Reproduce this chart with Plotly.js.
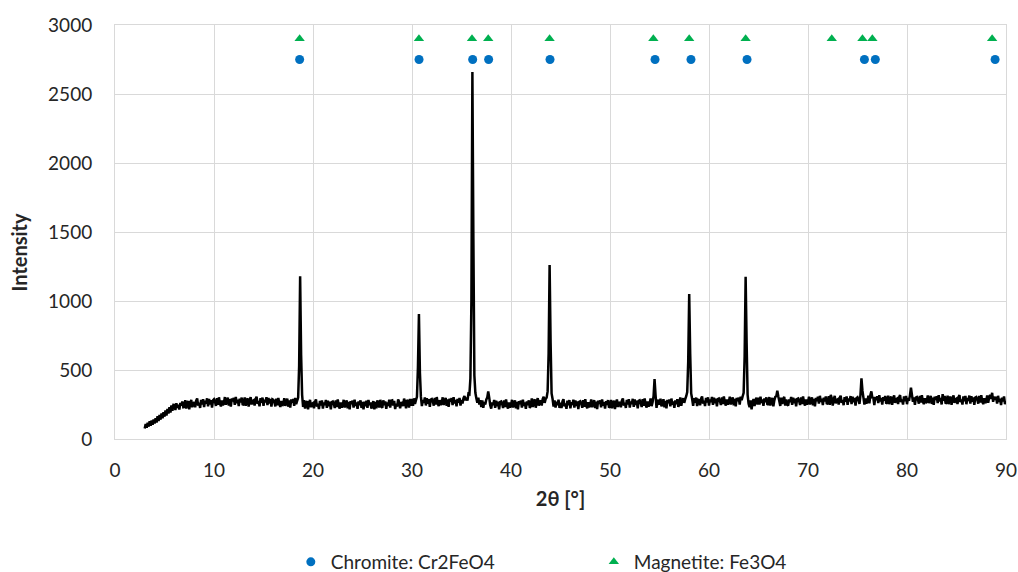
<!DOCTYPE html>
<html>
<head>
<meta charset="utf-8">
<script src="https://cdn.plot.ly/plotly-3.0.1.min.js"></script>
<style>html,body{margin:0;padding:0;background:#fff;}#chart{width:1018px;height:572px;}</style>
</head>
<body>
<div id="chart"></div>
<script>
const twoThetaStart = 3.0;
const twoThetaStep = 0.1;
const intensity = [
  76,108,82,118,90,128,96,134,104,142,
  112,150,120,166,130,174,140,186,150,194,
  162,206,170,218,184,230,192,244,204,248,
  247,210,259,226,249,214,261,242,272,230,
  232,282,220,262,275,215,258,284,230,255,
  268,230,278,294,243,263,225,284,250,288,
  232,277,257,295,237,290,250,282,227,280,
  288,271,240,296,248,302,258,236,280,244,
  262,304,248,276,300,242,288,235,295,272,
  298,248,305,260,285,238,292,265,300,245,
  252,302,240,282,295,235,278,304,250,275,
  280,242,290,306,255,275,237,296,262,300,
  240,285,265,303,245,298,258,290,235,288,
  284,267,236,292,244,298,254,232,276,240,
  254,296,240,268,292,234,280,227,287,264,
  290,240,297,252,277,300,530,1180,610,320,
  232,282,220,262,275,215,258,284,230,255,
  260,222,270,286,235,255,217,276,242,280,
  220,265,245,283,225,278,238,270,215,268,
  272,255,224,280,232,286,242,220,264,228,
  242,284,228,256,280,222,268,215,275,252,
  278,228,285,240,265,218,272,245,280,225,
  268,215,270,238,278,225,283,245,265,220,
  252,275,215,268,222,280,256,228,284,242,
  225,280,245,272,218,265,240,285,228,278,
  280,242,276,217,255,235,286,270,222,260,
  263,238,292,266,223,283,270,228,290,240,
  290,240,295,255,282,305,520,905,480,305,
  238,283,263,301,243,296,256,288,233,286,
  290,273,242,298,250,304,260,238,282,246,
  260,302,246,274,298,240,286,233,293,270,
  296,246,303,258,283,236,290,263,298,243,
  282,258,296,311,280,300,279,328,324,440,
  1000,2660,1450,460,335,295,262,300,250,282,
  232,280,226,268,250,285,300,345,300,245,
  220,265,245,283,225,278,238,270,215,268,
  272,255,224,280,232,286,242,220,264,228,
  242,284,228,256,280,222,268,215,275,252,
  278,228,285,240,265,218,272,245,280,225,
  244,294,232,274,287,227,270,296,242,267,
  280,242,290,306,262,290,300,345,620,1260,
  700,330,290,235,280,228,270,245,285,225,
  262,224,272,288,237,257,219,278,244,282,
  222,267,247,285,227,280,240,272,217,270,
  274,257,226,282,234,288,244,222,266,230,
  244,286,230,258,282,224,270,217,277,254,
  280,230,287,242,267,220,274,247,282,227,
  234,284,222,264,277,217,260,286,232,257,
  268,230,278,294,243,263,225,284,250,288,
  228,273,253,291,233,286,246,278,223,276,
  280,263,232,288,240,294,250,228,272,236,
  252,294,238,266,310,434,320,225,285,262,
  250,292,236,264,288,230,276,223,283,260,
  286,236,293,248,273,226,280,253,288,233,
  252,302,240,282,295,262,290,310,340,560,
  1050,620,330,290,240,296,262,300,238,285,
  282,244,292,308,257,277,239,298,264,302,
  242,287,267,305,247,300,260,292,237,290,
  294,277,246,302,254,308,264,242,286,250,
  264,306,250,278,302,244,290,237,297,274,
  300,250,306,282,310,335,600,1175,700,320,
  255,230,280,215,262,290,238,282,300,250,
  300,250,307,262,287,240,294,267,302,247,
  254,304,242,284,297,237,280,306,310,350,
  310,275,240,300,254,288,306,242,286,250,
  242,287,267,305,247,300,260,292,237,290,
  294,277,246,302,254,308,264,242,286,250,
  264,306,250,278,302,244,290,237,297,274,
  306,256,313,268,293,246,300,273,308,253,
  260,310,248,320,296,243,286,312,258,283,
  288,250,298,314,263,283,245,304,270,308,
  248,293,273,311,253,306,266,298,243,296,
  302,285,254,320,440,350,300,250,294,258,
  272,314,258,318,345,300,298,245,305,282,
  310,260,317,272,297,250,304,277,312,257,
  264,314,252,294,307,247,290,316,262,287,
  292,254,302,318,267,287,249,308,274,312,
  252,297,277,318,372,320,270,302,247,300,
  304,287,256,312,264,318,274,252,296,260,
  274,316,260,288,312,254,300,247,307,284,
  310,260,317,272,297,250,325,277,312,257,
  264,314,252,294,307,247,290,316,262,287,
  292,254,302,318,267,287,249,308,274,312,
  252,297,277,315,257,310,270,302,247,300,
  304,287,256,312,264,318,274,252,296,260,
  274,316,262,300,320,290,335,270,307,284,
  306,256,313,268,293,246,300,273,308,253,
  275
];

// Phase reference markers
const chromitePos = [18.65, 30.71, 36.13, 37.74, 43.94, 54.55, 58.18, 63.84, 75.7, 76.8, 88.9];
const chromiteLevel = 2750;
const magnetitePos = [18.65, 30.7, 36.06, 37.7, 43.9, 54.38, 58.0, 63.7, 72.4, 75.5, 76.5, 88.6];
const magnetiteLevel = 2900;

const xTicks = [0,10,20,30,40,50,60,70,80,90];
const yTicks = [0,500,1000,1500,2000,2500,3000];

const FONT = 'Lato, "Liberation Sans", sans-serif';

const traces = [
  {
    type: 'scatter', mode: 'lines',
    x0: twoThetaStart, dx: twoThetaStep, y: intensity,
    line: {color: '#000000', width: 2.5, simplify: false},
    showlegend: false, hoverinfo: 'skip'
  },
  {
    type: 'scatter', mode: 'markers', name: 'Chromite: Cr2FeO4',
    x: chromitePos, y: chromitePos.map(() => chromiteLevel),
    marker: {symbol: 'circle', size: 9, color: '#0070C0'}
  },
  {
    type: 'scatter', mode: 'markers', name: 'Magnetite: Fe3O4',
    x: magnetitePos, y: magnetitePos.map(() => magnetiteLevel),
    marker: {symbol: 'triangle-up', size: 9, color: '#00B050'}
  }
];

const layout = {
  width: 1018, height: 572,
  margin: {l: 115, r: 12, t: 25, b: 133},
  paper_bgcolor: '#ffffff', plot_bgcolor: '#ffffff',
  font: {family: FONT, size: 19, color: '#262626'},
  xaxis: {
    range: [0, 90], tickvals: xTicks, ticktext: xTicks.map(String),
    showgrid: true, gridcolor: '#d9d9d9', gridwidth: 1,
    showline: true, linecolor: '#d9d9d9', linewidth: 1, mirror: true,
    zeroline: false,
    ticks: 'outside', ticklen: 14, tickcolor: 'rgba(0,0,0,0)',
    tickfont: {family: FONT, size: 19, color: '#262626'},
    title: {text: '<b>2θ [°]</b>', font: {family: FONT, size: 20, color: '#262626'}, standoff: 12}
  },
  yaxis: {
    range: [0, 3000], tickvals: yTicks, ticktext: yTicks.map(String),
    showgrid: true, gridcolor: '#d9d9d9', gridwidth: 1,
    showline: true, linecolor: '#d9d9d9', linewidth: 1, mirror: true,
    zeroline: false,
    ticks: 'outside', ticklen: 18, tickcolor: 'rgba(0,0,0,0)',
    tickfont: {family: FONT, size: 19, color: '#262626'},
    title: {text: '<b>Intensity</b>&nbsp;&nbsp;&nbsp;&nbsp;&nbsp;&nbsp;&nbsp;&nbsp;', font: {family: FONT, size: 20, color: '#262626'}, standoff: 15}
  },
  showlegend: true,
  legend: {
    orientation: 'h', xref: 'paper', x: 0.5374, xanchor: 'center',
    yref: 'container', y: 0.0175, yanchor: 'middle',
    font: {family: FONT, size: 19, color: '#262626'},
    itemwidth: 30, entrywidth: 258, entrywidthmode: 'pixels',
    bgcolor: 'rgba(0,0,0,0)'
  }
};

Plotly.newPlot('chart', traces, layout, {displayModeBar: false, staticPlot: true});
</script>
</body>
</html>
